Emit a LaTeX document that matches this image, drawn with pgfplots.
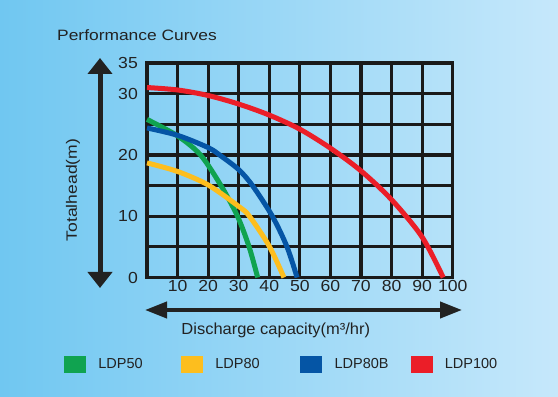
\documentclass[border=0pt]{standalone}
\usepackage{pgfplots}
\pgfplotsset{compat=1.18}
\usepackage{fontspec}
\setmainfont{Liberation Sans}
\usetikzlibrary{arrows.meta}
\definecolor{bgl}{RGB}{112,199,241}
\definecolor{bgr}{RGB}{198,232,251}
\definecolor{gk}{RGB}{26,26,26}
\definecolor{txt}{RGB}{34,34,34}
\definecolor{cgreen}{RGB}{16,163,80}
\definecolor{cyellow}{RGB}{253,190,30}
\definecolor{cblue}{RGB}{5,85,165}
\definecolor{cred}{RGB}{235,30,40}
\newcommand\wx[2]{\scalebox{#1}[1]{#2}}
\begin{document}
\begin{tikzpicture}[x=1pt,y=1pt]
\shade[left color=bgl,right color=bgr] (0,0) rectangle (558,397);
\useasboundingbox (0,0) rectangle (558,397);
\draw[line width=5pt, txt, {Triangle[width=24pt,length=16pt]}-{Triangle[width=24pt,length=16pt]}] (100,339) -- (100,109);
\draw[line width=4pt, txt, {Triangle[width=16pt,length=22pt]}-{Triangle[width=16pt,length=22pt]}] (145,87) -- (462,87);
\node[anchor=base west, inner sep=0, text=txt, font=\fontsize{15}{18}\selectfont] at (57,356.3) {\wx{1.16}{Performance Curves}};
\node[rotate=90, inner sep=0, text=txt, font=\fontsize{15}{18}\selectfont] at (73,207) {\wx{1.17}{Totalhead(m)}};
\node[anchor=base, inner sep=0, text=txt, font=\fontsize{16}{19}\selectfont] at (275.8,63) {\wx{1.03}{Discharge capacity(m³/hr)}};
\begin{axis}[
  at={(147pt,119.5pt)}, anchor=south west,
  scale only axis, width=305.7pt, height=214.5pt,
  xmin=0, xmax=100, ymin=0, ymax=35,
  clip=false,
  xtick={0,10,20,30,40,50,60,70,80,90,100},
  xticklabels={,\wx{1.1}{10},\wx{1.1}{20},\wx{1.1}{30},\wx{1.1}{40},\wx{1.1}{50},\wx{1.1}{60},\wx{1.1}{70},\wx{1.1}{80},\wx{1.1}{90},\wx{1.1}{100}},
  ytick={0,5,10,15,20,25,30,35},
  yticklabels={\wx{1.1}{0},,\wx{1.1}{10},,\wx{1.1}{20},,\wx{1.1}{30},\raisebox{-4pt}{\wx{1.1}{35}}},
  major tick length=0pt,
  tick label style={font=\fontsize{16}{19}\selectfont, text=txt, inner sep=0pt},
  xticklabel style={anchor=north, yshift=-2.5pt},
  yticklabel style={anchor=east, xshift=-9pt},
  grid=major,
  grid style={line width=3.2pt, color=gk},
  axis line style={line width=3.2pt, color=gk},
  legend columns=4,
  legend cell align=left,
  legend image code/.code={\fill[draw=none] (0pt,-8.5pt) rectangle (22pt,8.5pt);},
  legend style={at={(axis description cs:-0.2715,-0.4056)}, anchor=west,
    draw=none, fill=none, inner sep=0pt, outer sep=0pt,
    font=\fontsize{14.5}{17}\selectfont, text=txt,
    nodes={inner sep=0pt},
    /tikz/every odd column/.style={column sep=12.3pt},
    /tikz/every even column/.style={column sep=0pt}},
]
\addplot[color=cgreen, line width=5pt, smooth] coordinates {(0,25.8)(10,23.1)(17.5,20)(24.2,15)(29.6,10)(33.4,5)(36.2,0)};
\addlegendentry{\makebox[82.7pt][l]{LDP50}}
\addplot[color=cyellow, line width=5pt, smooth] coordinates {(0,18.7)(10,17.3)(20,15.1)(30,11.6)(33.5,10)(40,5.1)(44.8,0)};
\addlegendentry{\makebox[85pt][l]{LDP80}}
\addplot[color=cblue, line width=5pt, smooth] coordinates {(0,24.4)(10,23.2)(20,21.2)(24,19.9)(30,17.6)(34.5,15)(41,10)(45.8,5)(49.1,0)};
\addlegendentry{\makebox[76pt][l]{LDP80B}}
\addplot[color=cred, line width=5pt, smooth] coordinates {(0,31.0)(10,30.6)(20,29.7)(30,28.3)(40,26.5)(50,24.2)(60,21.1)(70,17.4)(80,12.7)(90,6.6)(96.9,0)};
\addlegendentry{LDP100}
\end{axis}
\end{tikzpicture}
\end{document}
